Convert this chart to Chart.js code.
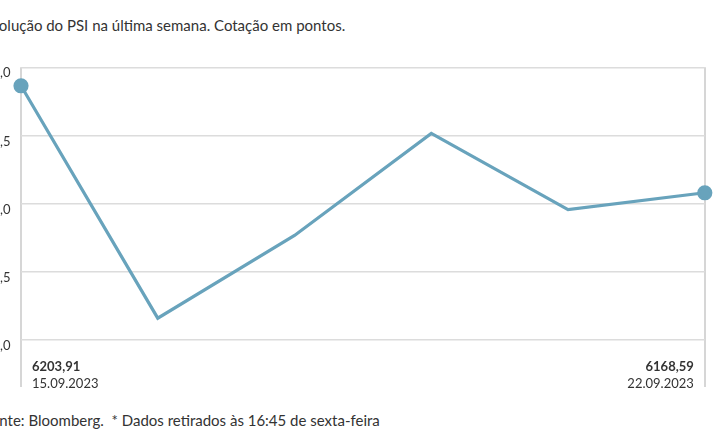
<!DOCTYPE html>
<html>
<head>
<meta charset="utf-8">
<script src="https://cdn.jsdelivr.net/npm/chart.js@4/dist/chart.umd.min.js"></script>
<style>
  body { margin: 0; width: 715px; height: 445px; overflow: hidden; position: relative; background: #fff; font-family: Lato, sans-serif; color: #333; }
  .title { position: absolute; left: -17px; top: 16px; font-size: 15px; white-space: nowrap; }
  .foot { position: absolute; left: -17px; top: 411px; font-size: 15px; white-space: nowrap; }
  .wrap { position: absolute; left: -39px; top: 49px; width: 753px; height: 346px; }
</style>
</head>
<body>
<div class="title">Evolução do PSI na última semana. Cotação em pontos.</div>
<div class="wrap"><canvas id="psi"></canvas></div>
<div class="foot">Fonte: Bloomberg.&nbsp; * Dados retirados às 16:45 de sexta-feira</div>
<script>
var days = ['15.09.2023', '18.09.2023', '19.09.2023', '20.09.2023', '21.09.2023', '22.09.2023'];
var psi = [6203.91, 6127.2, 6154.5, 6188.2, 6163.0, 6168.59];
var yTicks = [6120, 6142.5, 6165, 6187.5, 6210];

function fmt(v, d) {
    return v.toFixed(d).replace('.', ',');
}

var edgeLabels = {
    id: 'edgeLabels',
    afterDraw: function(chart) {
        var ctx = chart.ctx;
        var xs = chart.scales.x;
        var last = psi.length - 1;
        var top = chart.chartArea.bottom;
        ctx.save();
        ctx.fillStyle = '#333';
        ctx.textBaseline = 'middle';
        ctx.textAlign = 'left';
        ctx.font = 'bold 13px Lato';
        ctx.fillText(fmt(psi[0], 2), xs.getPixelForValue(0) + 11, top + 27);
        ctx.font = '13px Lato';
        ctx.fillText(days[0], xs.getPixelForValue(0) + 11, top + 44);
        ctx.textAlign = 'right';
        ctx.font = 'bold 13px Lato';
        ctx.fillText(fmt(psi[last], 2), xs.getPixelForValue(last) - 11, top + 27);
        ctx.font = '13px Lato';
        ctx.fillText(days[last], xs.getPixelForValue(last) - 11, top + 44);
        ctx.restore();
    }
};

new Chart(document.getElementById('psi'), {
    type: 'line',
    data: {
        labels: days,
        datasets: [{
            data: psi,
            borderColor: '#68a3bc',
            backgroundColor: '#68a3bc',
            borderWidth: 3.2,
            tension: 0,
            clip: false,
            pointRadius: function(c) { return (c.dataIndex === 0 || c.dataIndex === psi.length - 1) ? 6 : 0; },
            pointHoverRadius: 0
        }]
    },
    plugins: [edgeLabels],
    options: {
        responsive: true,
        maintainAspectRatio: false,
        animation: false,
        layout: { padding: { top: 6, right: 8, left: 0, bottom: 0 } },
        plugins: { legend: { display: false }, tooltip: { enabled: false } },
        scales: {
            x: {
                offset: false,
                border: { display: false },
                grid: {
                    color: function(c) { return (c.index === 0 || c.index === psi.length - 1) ? '#d6d6d6' : 'rgba(0,0,0,0)'; },
                    lineWidth: 2,
                    drawTicks: true,
                    tickLength: 47
                },
                ticks: { display: false },
                afterFit: function(s) { s.height = 55; }
            },
            y: {
                min: yTicks[0],
                max: yTicks[yTicks.length - 1],
                border: { display: false },
                grid: { color: '#dcdcdc', lineWidth: 1.5, drawTicks: false },
                afterBuildTicks: function(s) { s.ticks = yTicks.map(function(v) { return { value: v }; }); },
                ticks: {
                    padding: 10.5,
                    labelOffset: 6,
                    color: '#333',
                    font: { family: 'Lato', size: 13 },
                    callback: function(v) { return fmt(v, 1); }
                },
                afterFit: function(s) { s.width = 60; }
            }
        }
    }
});
</script>
</body>
</html>
